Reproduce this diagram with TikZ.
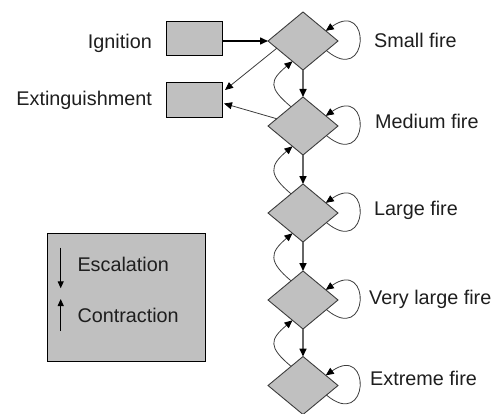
\documentclass[tikz,border=0pt]{standalone}
\usepackage{fontspec}
\setmainfont{Liberation Sans}
\usetikzlibrary{shapes.geometric,arrows.meta,calc}
\definecolor{boxgray}{RGB}{192,192,192}
\definecolor{edgegray}{RGB}{60,60,60}
\definecolor{txt}{RGB}{30,30,30}
\begin{document}
\begin{tikzpicture}[x=1pt,y=1pt,
  font=\fontsize{19.8}{23}\selectfont,
  fire/.style={shape=diamond, draw=edgegray, line width=0.9pt, fill=boxgray,
    minimum width=70pt, minimum height=58pt, inner sep=0pt, outer sep=0pt},
  box/.style={draw=black, line width=0.9pt, fill=boxgray, inner sep=0pt, outer sep=0pt},
  lbl/.style={anchor=base west, text=txt, inner sep=0pt},
  lblr/.style={anchor=base east, text=txt, inner sep=0pt},
  tip/.style={-{Triangle[length=8pt,width=7pt,color=black]}},
  esc/.style={tip, draw=black!60, line width=1.6pt},
  thinarrow/.style={tip, draw=edgegray, line width=0.8pt},
  ignarrow/.style={tip, draw=black, line width=1.5pt},
  legarrow/.style={-{Triangle[length=7pt,width=6pt]}, draw=black, line width=1pt},
]
\useasboundingbox (0,0) rectangle (492,413);

% fire states
\node[fire] (f1) at (303,372) {};
\node[fire] (f2) at (303,287) {};
\node[fire] (f3) at (303,200) {};
\node[fire] (f4) at (303,113) {};
\node[fire] (f5) at (303,27.5) {};

\node[lbl] (l1) at (374,365.7) {Small fire};
\node[lbl] (l2) at (375,284) {Medium fire};
\node[lbl] (l3) at (374,197.3) {Large fire};
\node[lbl] (l4) at (369,109) {Very large fire};
\node[lbl] (l5) at (370,27.7) {Extreme fire};

% ignition / extinguishment
\node[box, minimum width=56pt, minimum height=34pt] (ign) at (194,375) {};
\node[box, minimum width=56pt, minimum height=35pt] (ext) at (194,313.5) {};
\node[lblr] (tign) at (152,364.7) {Ignition};
\node[lblr] (text) at (152,307) {Extinguishment};

% legend
\node[box, minimum width=158.4pt, minimum height=127.8pt] (leg) at (126.5,115.8) {};
\coordinate (ea) at (60.7,165.3);
\coordinate (eb) at (60.7,124.7);
\coordinate (ca) at (60.7,82);
\coordinate (cb) at (60.7,114);
\draw[legarrow] (ea) -- (eb);
\draw[legarrow] (ca) -- (cb);
\node[lbl] (tesc) at (77.3,142) {Escalation};
\node[lbl] (tcon) at (77.3,90.3) {Contraction};

% connectors
\draw[ignarrow] (ign.east |- f1.west) -- (f1.west);
\draw[thinarrow] ($(f1.west)!0.25!(f1.south)$) -- ($(ext.north east)+(3,-8)$);
\draw[thinarrow] ($(f2.west)!0.25!(f2.north)$) -- ($(ext.east)+(2,-4)$);

\foreach \u/\l in {f1/f2,f2/f3,f3/f4,f4/f5} {
  \draw[esc] (\u.south) -- (\l.north);
  \draw[thinarrow] ($(\l.west)!0.66!(\l.north)$) to[out=140,in=220,distance=30pt] ($(\u.west)!0.7!(\u.south)$);
}
\foreach \f in {f1,f2,f3,f4,f5} {
  \draw[thinarrow] ($(\f.east)!0.33!(\f.south)$) to[out=-40,in=35,distance=56pt] ($(\f.east)!0.35!(\f.north)$);
}
\end{tikzpicture}
\end{document}
